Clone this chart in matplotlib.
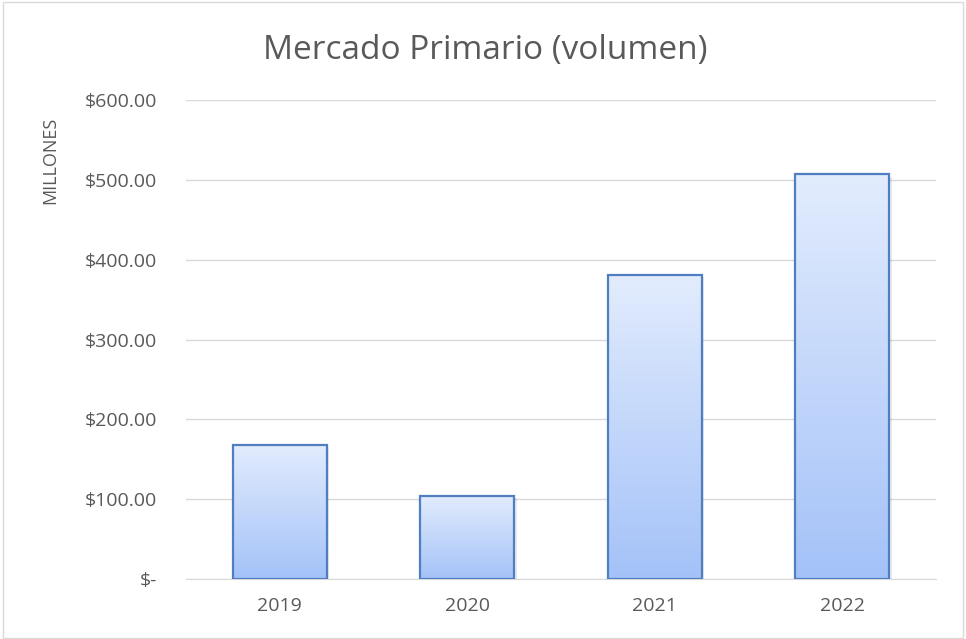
import numpy as np
import matplotlib
matplotlib.use("Agg")
import matplotlib.pyplot as plt
from matplotlib.colors import LinearSegmentedColormap
from matplotlib.ticker import FuncFormatter
from matplotlib.patches import Rectangle

years = ["2019", "2020", "2021", "2022"]
volumen = [168, 104, 381, 507]
y_ticks = [0, 100, 200, 300, 400, 500, 600]

plt.rcParams['font.family'] = ['Open Sans', 'DejaVu Sans']
gray_txt = '#595959'

fig = plt.figure(figsize=(9.66, 6.39), dpi=100)
ax = fig.add_axes([186 / 966, 1 - 579 / 639, 750 / 966, 479 / 639])

# gradient: light top, darker bottom
cmap = LinearSegmentedColormap.from_list('g', ['#A4C2F8', '#E2ECFD'])
grad = np.linspace(0, 1, 256).reshape(-1, 1)
width = 0.5
x = np.arange(len(years))

for xi, v in zip(x, volumen):
    # soft shadow
    ax.add_patch(Rectangle((xi - width / 2 + 0.015, 0), width, v - 3,
                           facecolor='#000000', alpha=0.08, edgecolor='none', zorder=2))
    ax.imshow(grad, extent=[xi - width / 2, xi + width / 2, 0, v], origin='lower',
              cmap=cmap, aspect='auto', zorder=3)
ax.bar(x, volumen, width=width, facecolor='none', edgecolor='#4F7FC1', linewidth=1.6, zorder=4)

ax.set_xlim(-0.5, 3.5)
ax.set_ylim(0, 600)
ax.set_yticks(y_ticks)
ax.yaxis.set_major_formatter(FuncFormatter(lambda v, p: '$-' if v == 0 else f'${v:,.2f}'))
ax.set_xticks(x)
ax.set_xticklabels(years)
ax.grid(axis='y', color='#D9D9D9', linewidth=1, zorder=0)
ax.set_axisbelow(True)
for s in ['top', 'right', 'left']:
    ax.spines[s].set_visible(False)
ax.spines['bottom'].set_color('#D9D9D9')
ax.tick_params(axis='both', length=0, labelsize=14, labelcolor=gray_txt)
ax.tick_params(axis='y', pad=21)
ax.tick_params(axis='x', pad=13)

fig.text(485 / 966, 1 - 51 / 639, 'Mercado Primario (volumen)', ha='center', va='center',
         fontsize=24, color=gray_txt)
fig.text(50 / 966, 1 - 160 / 639, 'MILLONES', rotation=90, ha='center', va='center',
         fontsize=13, color=gray_txt)

fig.patches.append(Rectangle((0.003, 0.002), 0.994, 0.995, transform=fig.transFigure,
                             fill=False, edgecolor='#D9D9D9', linewidth=1))

fig.savefig('out.png', dpi=100)
